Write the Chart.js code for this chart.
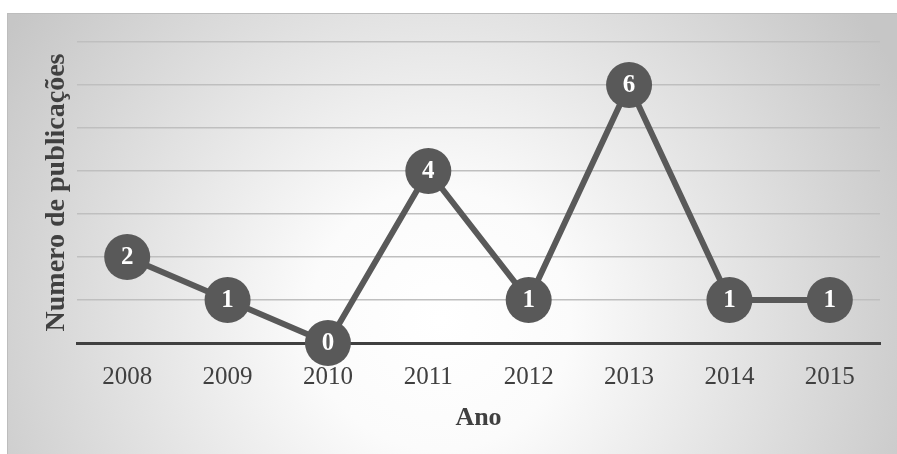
<!DOCTYPE html>
<html>
<head>
<meta charset="utf-8">
<script src="https://cdn.jsdelivr.net/npm/chart.js@4/dist/chart.umd.min.js"></script>
<style>
  html, body { margin: 0; padding: 0; background: #ffffff; overflow: hidden; }
  #wrap { width: 897px; height: 454px; position: relative; }
  canvas { display: block; }
</style>
</head>
<body>
<div id="wrap"><canvas id="chart" width="897" height="454"></canvas></div>
<script>
// Publications per year
const years = ['2008', '2009', '2010', '2011', '2012', '2013', '2014', '2015'];
const publications = [2, 1, 0, 4, 1, 6, 1, 1];
const yTicks = [0, 1, 2, 3, 4, 5, 6, 7];

const serif = '"Liberation Serif", "Times New Roman", serif';
const markColor = '#595959';
const textColor = '#404040';

// Framed panel with a soft radial shading behind the plot
const panelBackground = {
  id: 'panelBackground',
  beforeDraw(chart) {
    const ctx = chart.ctx;
    const w = chart.width, h = chart.height;
    ctx.save();
    ctx.fillStyle = '#ffffff';
    ctx.fillRect(0, 0, w, h);
    const x0 = 7, y0 = 13;
    const g = ctx.createRadialGradient(440, 320, 0, 440, 320, 520);
    g.addColorStop(0, '#ffffff');
    g.addColorStop(0.25, '#fbfbfb');
    g.addColorStop(1, '#c6c6c6');
    ctx.fillStyle = g;
    ctx.fillRect(x0, y0, w - x0, h - y0);
    ctx.strokeStyle = '#bdbdbd';
    ctx.lineWidth = 1;
    ctx.strokeRect(x0 + 0.5, y0 + 0.5, w - x0, h - y0);
    ctx.restore();
  }
};

// Value written inside each round marker
const markerValues = {
  id: 'markerValues',
  afterDatasetsDraw(chart) {
    const ctx = chart.ctx;
    const meta = chart.getDatasetMeta(0);
    const values = chart.data.datasets[0].data;
    ctx.save();
    ctx.fillStyle = '#ffffff';
    ctx.font = 'bold 25px ' + serif;
    ctx.textAlign = 'center';
    ctx.textBaseline = 'middle';
    meta.data.forEach((pt, i) => {
      ctx.fillText(String(values[i]), pt.x, pt.y + 1);
    });
    ctx.restore();
  }
};

new Chart(document.getElementById('chart'), {
  type: 'line',
  data: {
    labels: years,
    datasets: [{
      data: publications,
      borderColor: markColor,
      borderWidth: 6,
      backgroundColor: markColor,
      pointRadius: 23,
      pointHoverRadius: 23,
      pointBorderWidth: 0,
      pointBackgroundColor: markColor,
      tension: 0,
      clip: false
    }]
  },
  options: {
    responsive: false,
    animation: false,
    events: [],
    layout: { autoPadding: false, padding: { top: 42, right: 17, left: 0, bottom: 0 } },
    plugins: {
      legend: { display: false },
      tooltip: { enabled: false }
    },
    scales: {
      x: {
        offset: true,
        grid: { display: false, drawTicks: false },
        border: { display: true, color: '#404040', width: 3 },
        ticks: {
          color: textColor,
          font: { family: serif, size: 25 },
          padding: 19,
          maxRotation: 0
        },
        title: {
          display: true,
          text: 'Ano',
          color: textColor,
          font: { family: serif, size: 26, weight: 'bold' },
          padding: { top: 0, bottom: 20 }
        },
        afterFit(scale) {
          scale.height = 111;
          scale.paddingLeft = 0;
          scale.paddingRight = 0;
        }
      },
      y: {
        min: yTicks[0],
        max: yTicks[yTicks.length - 1],
        afterBuildTicks(scale) { scale.ticks = yTicks.map(v => ({ value: v })); },
        ticks: { display: false },
        grid: {
          drawTicks: false,
          color: ctx => ctx.tick && ctx.tick.value === 0 ? 'rgba(0,0,0,0)' : '#bfbfbf',
          lineWidth: 1.5
        },
        border: { display: false },
        title: {
          display: true,
          text: 'Numero de publicações',
          color: textColor,
          font: { family: serif, size: 28, weight: 'bold' },
          padding: { top: 40, bottom: 0 }
        },
        afterFit(scale) {
          scale.width = 77;
          scale.paddingTop = 0;
          scale.paddingBottom = 0;
        }
      }
    }
  },
  plugins: [panelBackground, markerValues]
});
</script>
</body>
</html>
